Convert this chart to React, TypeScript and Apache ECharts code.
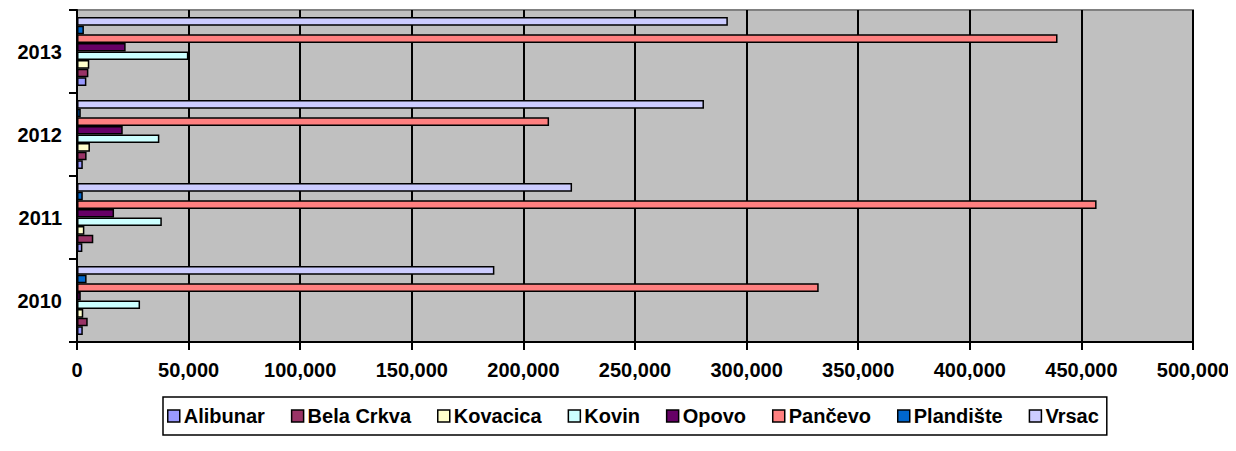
import React, { useEffect, useRef } from "react";
import * as echarts from "echarts";

const years = ["2010", "2011", "2012", "2013"];
const seriesNames = ["Alibunar", "Bela Crkva", "Kovacica", "Kovin", "Opovo", "Pančevo", "Plandište", "Vrsac"];
const alibunar = [2600, 2400, 2600, 4200];
const belaCrkva = [4800, 7300, 4300, 5100];
const kovacica = [2800, 3300, 5800, 5500];
const kovin = [28250, 38000, 36900, 49900];
const opovo = [1700, 16600, 20500, 21800];
const pancevo = [332300, 456800, 211500, 439300];
const plandiste = [4300, 2600, 1700, 3100];
const vrsac = [187000, 221800, 280900, 291600];
const seriesValues = [alibunar, belaCrkva, kovacica, kovin, opovo, pancevo, plandiste, vrsac];
const colors = ["#9999FF", "#993366", "#FFFFCC", "#CCFFFF", "#660066", "#FF8080", "#0066CC", "#CCCCFF"];

const FONT = "Arial, 'Liberation Sans', sans-serif";

export default function App() {
  const ref = useRef<HTMLDivElement>(null);
  useEffect(() => {
    const chart = echarts.init(ref.current!, null, { renderer: "svg" });
    // ECharts draws horizontal bars top-to-bottom in series order; reverse so the first series is at the bottom.
    const order = seriesNames.map((_, i) => i).reverse();
    chart.setOption({
      animation: false,
      grid: {
        left: 69,
        right: 43,
        top: 2,
        bottom: 109,
        show: true,
        backgroundColor: "#C0C0C0",
        borderColor: "#808080",
        borderWidth: 2,
      },
      legend: {
        left: 155,
        top: 389,
        orient: "horizontal",
        data: seriesNames.map((name, i) => ({
          name,
          itemStyle: { color: colors[i], borderColor: "#000", borderWidth: 1.5 },
        })),
        itemWidth: 12,
        itemHeight: 12,
        itemGap: 26,
        borderColor: "#000",
        borderWidth: 1.5,
        padding: [9, 8, 9, 4],
        icon: "rect",
        textStyle: { fontFamily: FONT, fontWeight: "bold", fontSize: 20, color: "#000", padding: [0, 0, 0, -1] },
      },
      xAxis: {
        type: "value",
        min: 0,
        max: 500000,
        interval: 50000,
        axisLine: { show: true, lineStyle: { color: "#000", width: 2 } },
        axisTick: { show: true, length: 8, lineStyle: { color: "#000", width: 2 } },
        splitLine: { show: true, lineStyle: { color: "#000", width: 2 } },
        axisLabel: {
          margin: 18,
          fontFamily: FONT,
          fontWeight: "bold",
          fontSize: 20,
          color: "#000",
          formatter: (v: number) => v.toLocaleString("en-US"),
        },
      },
      yAxis: {
        type: "category",
        data: years,
        axisLine: { show: true, lineStyle: { color: "#000", width: 2 } },
        axisTick: { show: true, length: 8, lineStyle: { color: "#000", width: 2 } },
        axisLabel: {
          margin: 15,
          fontFamily: FONT,
          fontWeight: "bold",
          fontSize: 20,
          color: "#000",
        },
      },
      series: order.map((i) => ({
        name: seriesNames[i],
        type: "bar",
        data: seriesValues[i],
        barGap: "0%",
        barCategoryGap: "17%",
        itemStyle: { color: colors[i], borderColor: "#000", borderWidth: 1.5 },
      })),
    });
    return () => chart.dispose();
  }, []);
  return <div ref={ref} style={{ width: 1228, height: 443 }} />;
}
